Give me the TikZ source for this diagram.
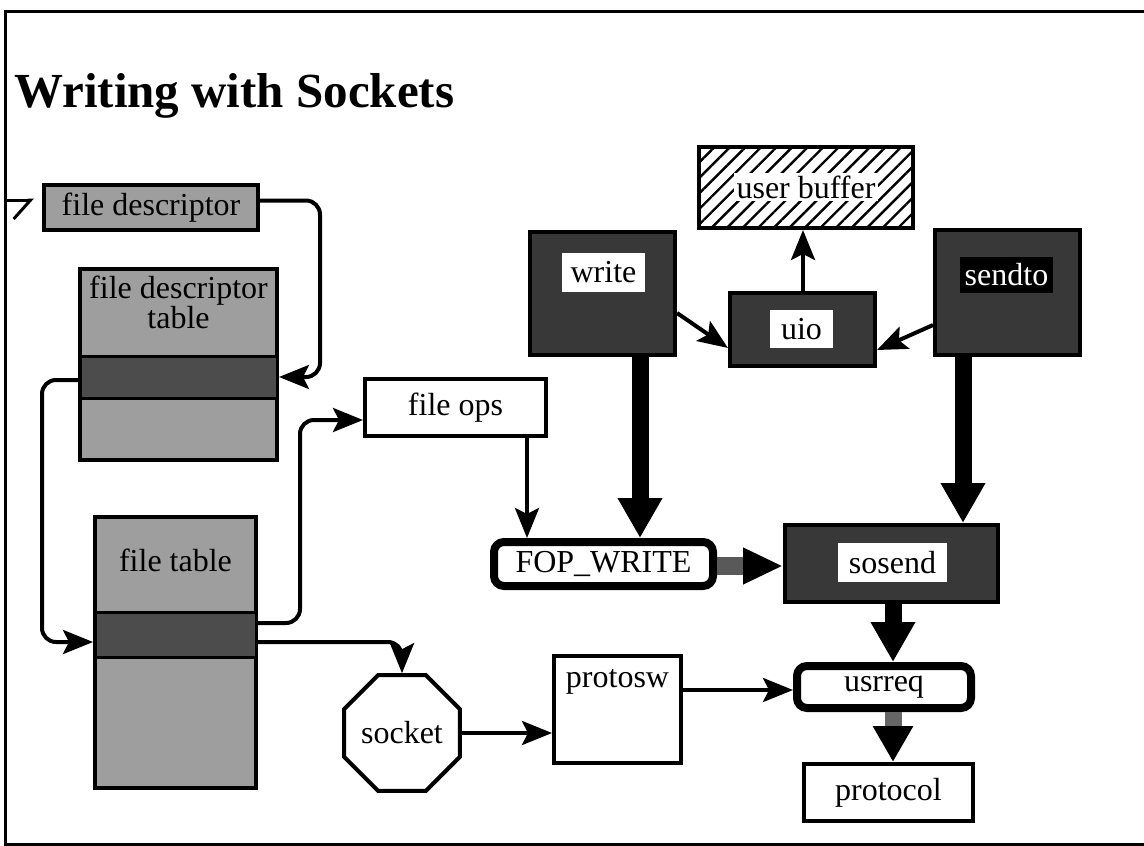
\documentclass[tikz,border=0pt]{standalone}
\usepackage{fontspec}
\setmainfont{Liberation Serif}
\usetikzlibrary{arrows.meta,shapes.geometric,patterns.meta}
\begin{document}
\begin{tikzpicture}[x=1pt,y=-1pt,
  txt/.style={font=\fontsize{32}{30}\selectfont},
  box/.style={draw, line width=4pt, inner sep=0pt, txt},
  lightbox/.style={box, fill=black!38},
  bandbox/.style={draw, line width=3pt, fill=black!70, inner sep=0pt},
  darkbox/.style={box, fill=black!78},
  thickbox/.style={draw, line width=8pt, rounded corners=10pt, inner sep=0pt, txt, fill=white},
  lbl/.style={fill=white, inner sep=0pt, txt},
  conn/.style={line width=4pt, -{Stealth[length=30pt,width=24pt,inset=6pt]}},
  fat/.style={line width=17pt, -{Triangle[length=40pt,width=42pt]}},
]
\useasboundingbox (0,0) rectangle (1144,846);
\draw[line width=3pt] (1144,11) -- (5,11) -- (5,844) -- (1144,844);
\node[anchor=base west, font=\bfseries\fontsize{49}{49}\selectfont, inner sep=0pt] (title) at (14,107) {Writing with Sockets};

% left column
\node[lightbox, minimum width=214pt, minimum height=45pt] (fd) at (151,207.5) {file descriptor};
\node[lightbox, minimum width=197pt, minimum height=191pt] (fdt) at (178.5,364.5) {};
\node[bandbox, minimum width=197pt, minimum height=42pt] (fdtband) at (178.5,377) {};
\node[txt, align=center] (fdtlabel) at (178.5,302) {file descriptor\\table};

\node[lightbox, minimum width=161pt, minimum height=271pt] (ft) at (175.5,652.5) {};
\node[bandbox, minimum width=161pt, minimum height=45pt] (ftband) at (175.5,634.5) {};
\node[txt] (ftlabel) at (175.5,560) {file table};

\node[box, fill=white, minimum width=181pt, minimum height=57pt] (fileops) at (455.5,407.5) {file ops};
\node[regular polygon, regular polygon sides=8, draw, line width=4pt, minimum size=112pt, inner sep=0pt, txt, fill=white] (socket) at (402,733) {socket};
\node[box, fill=white, minimum width=127pt, minimum height=107pt] (protosw) at (617.5,709.5) {};
\node[txt] (protoswlabel) at (617.5,682) {protosw};

% right part
\node[thickbox, minimum width=174pt, minimum height=42pt] (usrreq) at (884,687) {usrreq};
\node[box, fill=white, minimum width=169pt, minimum height=57pt] (protocol) at (888.5,792.5) {protocol};
\node[darkbox, minimum width=213pt, minimum height=77pt] (sosend) at (891.5,563.5) {};
\node[lbl, minimum width=109pt, minimum height=39pt] (sosendlabel) at (892.5,562.5) {sosend};
\node[thickbox, minimum width=219pt, minimum height=44pt] (FOP) at (603.5,564) {FOP\_WRITE};
\node[darkbox, minimum width=145pt, minimum height=123pt] (write) at (602.5,293.5) {};
\node[lbl, minimum width=83pt, minimum height=39pt] (writelabel) at (603.5,272.5) {write};
\node[darkbox, minimum width=145pt, minimum height=73pt] (uio) at (802.5,329.5) {};
\node[lbl, minimum width=63pt, minimum height=38pt] (uiolabel) at (801.5,329) {uio};
\node[box, fill=white, minimum width=214pt, minimum height=81pt] (ubuf) at (806,187.5) {};
\fill[pattern={Lines[angle=45,distance=11pt,line width=2.4pt]}] ([xshift=4pt,yshift=4pt]ubuf.south west) rectangle ([xshift=-4pt,yshift=-4pt]ubuf.north east);
\node[txt, fill=white, inner sep=3pt] (ubuflabel) at (806,187) {user buffer};
\node[darkbox, minimum width=145pt, minimum height=125pt] (sendto) at (1007.5,292.5) {};
\node[txt, fill=black, text=white, inner sep=0pt, minimum width=93pt, minimum height=36pt] (sendtolabel) at (1006.5,275) {sendto};

% connectors
\coordinate (offl) at (5,200);
\draw[line width=3pt, -{Straight Barb[harpoon,swap,length=17pt,width=38pt]}] (offl) -- (34,200);
\draw[conn, rounded corners=14pt] ([yshift=7pt]fd.east) -| (320,377) -- (fdt.east|-0,377);
\draw[conn, rounded corners=14pt] (fdt.west|-0,380) -| (42,642) -- (ft.west|-0,642);
\draw[conn, rounded corners=14pt] (ft.east|-0,623) -| (300,420) -- (fileops.west|-0,420);
\draw[conn, rounded corners=14pt] (ft.east|-0,642) -| (socket.north);
\draw[conn] (socket.east) -- (protosw.west|-socket.east);
\draw[conn] (protosw.east|-0,690) -- (usrreq.west|-0,690);
\draw[conn] (fileops.south-|527,0) -- (FOP.north-|527,0);
\draw[conn] (write.east|-0,313) -- (uio.west|-0,348);
\draw[conn] (uio.north-|803,0) -- (ubuf.south-|803,0);
\draw[conn] (sendto.west|-0,325) -- (uio.east|-0,350);
\draw[fat] (write.south-|640,0) -- (FOP.north-|640,0);
\draw[fat] (sendto.south-|963,0) -- (sosend.north-|963,0);
\draw[fat] (sosend.south-|893,0) -- (usrreq.north-|893,0);
\draw[line width=17pt, draw=black!60, -{Triangle[length=36pt,width=38pt,color=black]}] (usrreq.south-|893,0) -- (protocol.north-|893,0);
\draw[line width=18pt, draw=black!65, -{Triangle[length=40pt,width=34pt,color=black]}] (FOP.east|-0,566) -- (sosend.west|-0,566);
\end{tikzpicture}
\end{document}
